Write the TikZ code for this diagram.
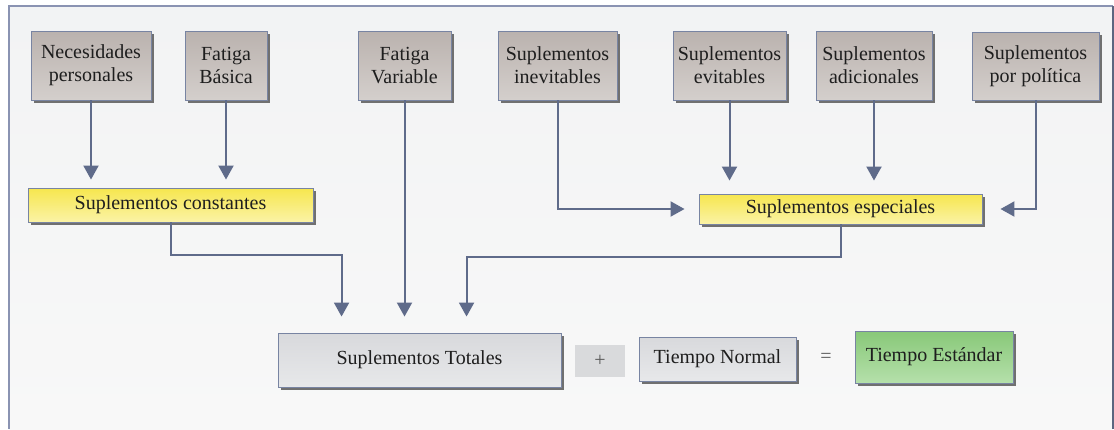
\documentclass[tikz,border=0pt]{standalone}
\usepackage{fontspec}
\setmainfont{Liberation Serif}
\usetikzlibrary{arrows.meta,shadows}

\definecolor{bgtop}{HTML}{F2F3F4}
\definecolor{bgbot}{HTML}{F8F8F8}
\definecolor{framec}{HTML}{8A93B2}
\definecolor{framer}{HTML}{5C6680}
\definecolor{edgec}{HTML}{7884A2}
\definecolor{gtop}{HTML}{BAB2AE}
\definecolor{gbot}{HTML}{D4CFCC}
\definecolor{ytop}{HTML}{F6E64E}
\definecolor{ybot}{HTML}{FBF3A6}
\definecolor{ltop}{HTML}{D8D9DC}
\definecolor{lbot}{HTML}{E7E8EA}
\definecolor{vtop}{HTML}{88C878}
\definecolor{vbot}{HTML}{B5E0AB}
\definecolor{shadowc}{HTML}{707070}
\definecolor{arrowc}{HTML}{5F6B8A}
\definecolor{plusc}{HTML}{D9DADC}
\definecolor{txt}{HTML}{1E1E1E}

\tikzset{
  boxbase/.style={draw=edgec, line width=0.9pt, align=center, inner sep=0pt,
    text=txt, font=\fontsize{20}{23}\selectfont,
    drop shadow={shadow xshift=3pt, shadow yshift=-3pt, fill=shadowc, opacity=1}},
  srcbox/.style={boxbase, top color=gtop, bottom color=gbot},
  sumbox/.style={boxbase, top color=ytop, bottom color=ybot},
  totbox/.style={boxbase, top color=ltop, bottom color=lbot},
  resbox/.style={boxbase, top color=vtop, bottom color=vbot},
  conn/.style={draw=arrowc, line width=2pt, -{Triangle[width=15pt,length=14pt]}},
}

\begin{document}
\begin{tikzpicture}[x=1pt,y=-1pt]
\useasboundingbox (0,0) rectangle (1114,429);
\fill[white] (0,0) rectangle (1114,429);
% panel background and frame
\shade[top color=bgtop, bottom color=bgbot] (9,6) rectangle (1113,429);
\draw[framec, line width=1.2pt] (9,429) -- (9,6) -- (1113,6);
\draw[framer, line width=1.6pt] (1113,6) -- (1113,429);

% source boxes
\node[srcbox, minimum width=120pt, minimum height=69pt] (nec)  at (91,65.5)    {Necesidades\\personales};
\node[srcbox, minimum width=82pt,  minimum height=69pt] (fb)   at (226,65.5)   {Fatiga\\Básica};
\node[srcbox, minimum width=93pt,  minimum height=69pt] (fv)   at (404.5,65.5) {Fatiga\\Variable};
\node[srcbox, minimum width=119pt, minimum height=69pt] (inev) at (557.5,65.5) {Suplementos\\inevitables};
\node[srcbox, minimum width=113pt, minimum height=69pt] (evit) at (729.5,65.5) {Suplementos\\evitables};
\node[srcbox, minimum width=116pt, minimum height=69pt] (adic) at (874,65.5)   {Suplementos\\adicionales};
\node[srcbox, minimum width=127pt, minimum height=68pt] (pol)  at (1035.5,66)  {Suplementos\\por política};

% grouped supplements
\node[sumbox, minimum width=285pt, minimum height=34pt] (const) at (170.5,205) {Suplementos constantes};
\node[sumbox, minimum width=283pt, minimum height=30pt] (esp)   at (840.5,209) {Suplementos especiales};

% equation row
\node[totbox, minimum width=283pt, minimum height=54pt] (tot) at (419.5,360) {Suplementos Totales};
\node[fill=plusc, minimum width=50pt, minimum height=32pt, inner sep=0pt, text=black!65,
      font=\fontsize{20}{23}\selectfont] (plus) at (600,361) {+};
\node[totbox, minimum width=157pt, minimum height=44pt] (tn) at (717.5,359) {Tiempo Normal};
\node[text=black!65, font=\fontsize{20}{23}\selectfont] (eq) at (826,358) {=};
\node[resbox, minimum width=158pt, minimum height=52pt] (te) at (934,357) {Tiempo Estándar};

% connectors
\draw[conn, shorten >=8pt]  (nec.south)  -- (nec.south |- const.north);
\draw[conn, shorten >=8pt]  (fb.south)   -- (fb.south |- const.north);
\draw[conn, shorten >=13pt] (evit.south) -- (evit.south |- esp.north);
\draw[conn, shorten >=13pt] (adic.south) -- (adic.south |- esp.north);
\draw[conn, shorten >=14pt] (inev.south) |- (esp.west);
\draw[conn, shorten >=18pt] (pol.south)  |- (esp.east);
\draw[conn, shorten >=16pt] (const.south) -- ++(0,33) -| ([xshift=64pt]tot.north west);
\draw[conn, shorten >=16pt] (fv.south) -- (fv.south |- tot.north);
\draw[conn, shorten >=16pt] (esp.south) -- ++(0,33) -| ([xshift=189pt]tot.north west);
\end{tikzpicture}
\end{document}
